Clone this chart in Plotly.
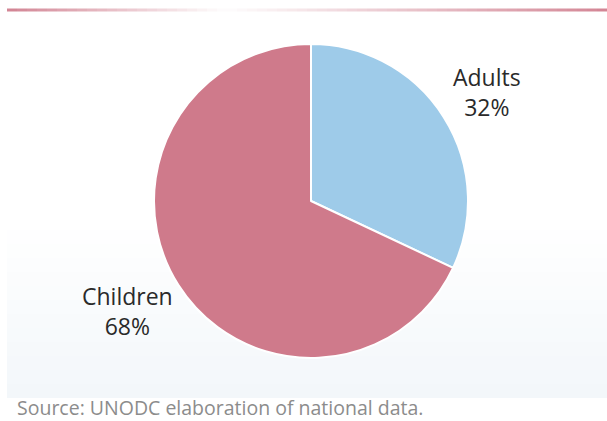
import plotly.graph_objects as go

labels = ["Adults", "Children"]
values = [32, 68]
colors = ["#9ecbe9", "#cf7a8b"]

W, H = 607, 421
cx, cy, r = 311, 201, 157

fig = go.Figure()
fig.add_pie(
    labels=labels,
    values=values,
    sort=False,
    direction="clockwise",
    rotation=0,
    marker={"colors": colors, "line": {"color": "white", "width": 2}},
    textinfo="none",
    hoverinfo="label+percent",
    showlegend=False,
    domain={"x": [(cx - r) / W, (cx + r) / W], "y": [(H - cy - r) / H, (H - cy + r) / H]},
)

shapes = []
# faint washed background near the bottom
for i in range(12):
    y0 = 230 + i * 14
    shapes.append(dict(type="rect", xref="paper", yref="paper", layer="below",
                       x0=7 / W, x1=1, y0=(H - y0 - 14) / H, y1=(H - y0) / H,
                       line={"width": 0}, fillcolor="#dfe9f2", opacity=0.03 + i * 0.03))
# gradient rule at top
n = 60
for i in range(n):
    t = i / (n - 1)
    a = abs(t - 0.36) / 0.64 if t > 0.36 else (0.36 - t) / 0.36
    shapes.append(dict(type="line", xref="paper", yref="paper",
                       x0=(7 + (W - 7) * i / n) / W, x1=(7 + (W - 7) * (i + 1) / n) / W,
                       y0=(H - 10) / H, y1=(H - 10) / H,
                       line={"color": "#cf7a8b", "width": 3}, opacity=max(0.02, a * 0.9)))

lab_font = {"size": 23, "color": "#2a2a2a"}
annotations = [
    dict(text="Adults<br>32%", x=487 / W, y=(H - 92) / H, xref="paper", yref="paper",
         xanchor="center", yanchor="middle", showarrow=False, font=lab_font, align="center"),
    dict(text="Children<br>68%", x=127 / W, y=(H - 311) / H, xref="paper", yref="paper",
         xanchor="center", yanchor="middle", showarrow=False, font=lab_font, align="center"),
    dict(text="Source: UNODC elaboration of national data.", x=15 / W, y=(H - 407) / H,
         xref="paper", yref="paper", xanchor="left", yanchor="middle", showarrow=False,
         font={"size": 19.5, "color": "#8c8c8c"}),
]

fig.update_layout(
    width=W, height=H,
    margin={"l": 0, "r": 0, "t": 0, "b": 0},
    paper_bgcolor="white", plot_bgcolor="white",
    font={"family": "Open Sans, Noto Sans, sans-serif"},
    shapes=shapes, annotations=annotations,
)

fig.write_html("out.html", config={"displayModeBar": False},
               post_script="document.body.style.margin='0';")
